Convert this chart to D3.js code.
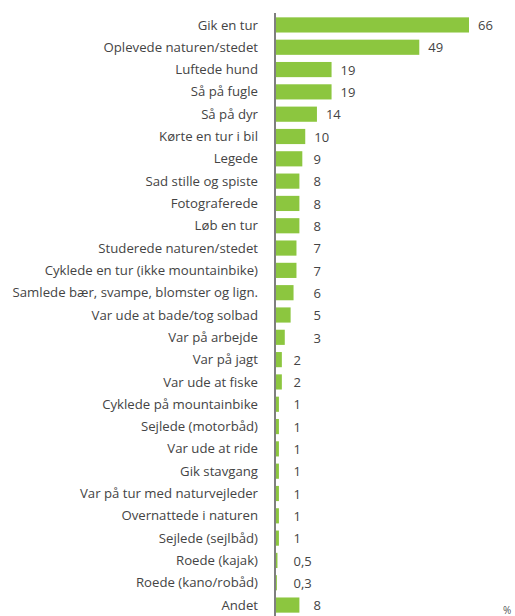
<!DOCTYPE html>
<html><head><meta charset="utf-8">
<script src="https://cdn.jsdelivr.net/npm/d3@7"></script>
<style>body{margin:0;background:#fff}</style>
</head><body>
<svg id="c" width="515" height="616"></svg>
<script>
const categories = ["Gik en tur","Oplevede naturen/stedet","Luftede hund","Så på fugle","Så på dyr","Kørte en tur i bil","Legede","Sad stille og spiste","Fotograferede","Løb en tur","Studerede naturen/stedet","Cyklede en tur (ikke mountainbike)","Samlede bær, svampe, blomster og lign.","Var ude at bade/tog solbad","Var på arbejde","Var på jagt","Var ude at fiske","Cyklede på mountainbike","Sejlede (motorbåd)","Var ude at ride","Gik stavgang","Var på tur med naturvejleder","Overnattede i naturen","Sejlede (sejlbåd)","Roede (kajak)","Roede (kano/robåd)","Andet"];
const values = [66,49,19,19,14,10,9,8,8,8,7,7,6,5,3,2,2,1,1,1,1,1,1,1,0.5,0.3,8];
const valueLabels = ["66","49","19","19","14","10","9","8","8","8","7","7","6","5","3","2","2","1","1","1","1","1","1","1","0,5","0,3","8"];

const svg = d3.select("#c");
const x0 = 275;
const x = d3.scaleLinear().domain([0,66]).range([x0+1, 469]);
const y = d3.scaleBand().domain(categories).range([14, 616]).paddingInner(0.32).paddingOuter(0.15);

svg.append("g").selectAll("rect").data(values).join("rect")
  .attr("x", x(0)).attr("y",(d,i)=>y(categories[i]))
  .attr("width", d=>x(d)-x(0)).attr("height", y.bandwidth())
  .attr("fill","#8cc63f");

svg.append("line").attr("x1",x0).attr("x2",x0).attr("y1",13).attr("y2",616)
  .attr("stroke","#555").attr("stroke-width",1.5);

svg.append("g").selectAll("text").data(categories).join("text")
  .attr("x",258).attr("y",d=>y(d)+y.bandwidth()/2).attr("dy","0.35em")
  .attr("text-anchor","end").attr("font-family","Open Sans").attr("font-size",13.2)
  .attr("fill","#444").text(d=>d);

svg.append("g").selectAll("text").data(values).join("text")
  .attr("x",d=>Math.max(x(d)+9, x(d>=3?12.8:6)))
  .attr("y",(d,i)=>y(categories[i])+y.bandwidth()/2).attr("dy","0.4em")
  .attr("font-family","Open Sans").attr("font-size",13)
  .attr("fill","#444").text((d,i)=>valueLabels[i]);

svg.append("text").attr("x",503).attr("y",614).attr("font-family","Open Sans").attr("font-size",10)
  .attr("fill","#555").text("%");
</script>
</body></html>
